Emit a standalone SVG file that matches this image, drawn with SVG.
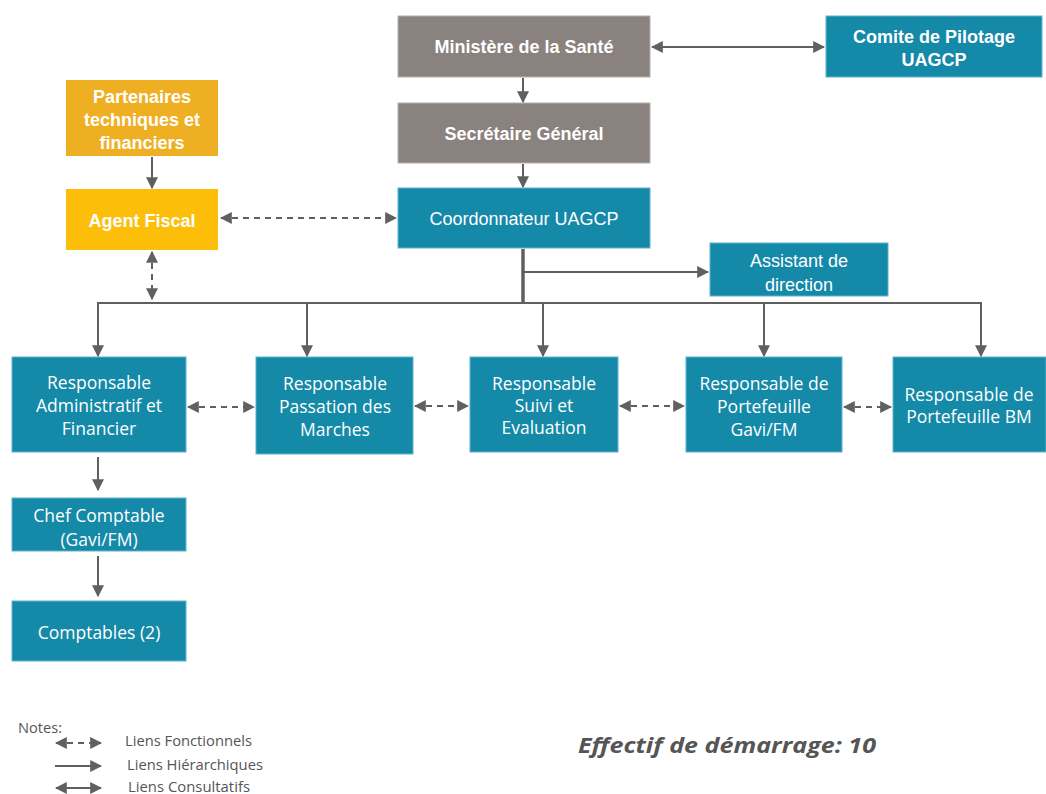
<svg xmlns="http://www.w3.org/2000/svg" width="1046" height="794" viewBox="0 0 1046 794">
<style>
.teal{fill:#1489A8;stroke:#5FB3CC;stroke-width:1}
.gray{fill:#8A827E;stroke:#b5aeaa;stroke-width:1}
.gold1{fill:#EFAF22}
.gold2{fill:#FDBE0A}
.t{font-family:"Open Sans","Liberation Sans",sans-serif;font-size:17.5px;fill:#fff;text-anchor:middle}
.tb{font-family:"Liberation Sans",Arial,sans-serif;font-size:18px;font-weight:bold;fill:#fff;text-anchor:middle}
.tc{font-family:"Liberation Sans",Arial,sans-serif;font-size:18px;fill:#fff;text-anchor:middle}
.ln{fill:none;stroke:#606060;stroke-width:2}
.dash{stroke-dasharray:6 5}
.leg{font-family:"Open Sans","Liberation Sans",sans-serif;font-size:14px;fill:#555}
</style>
<defs>
<marker id="ah" markerUnits="userSpaceOnUse" markerWidth="12" markerHeight="12" refX="9" refY="5" orient="auto-start-reverse" viewBox="0 0 10 10">
<path d="M0,0 L10,5 L0,10 z" fill="#606060"/>
</marker>
</defs>
<rect width="1046" height="794" fill="#fff"/>

<g id="connectors">
<line class="ln" x1="652" y1="47" x2="824" y2="47" marker-start="url(#ah)" marker-end="url(#ah)"/>
<line class="ln" x1="523" y1="78" x2="523" y2="102" marker-end="url(#ah)"/>
<line class="ln" x1="523" y1="164" x2="523" y2="187" marker-end="url(#ah)"/>
<line class="ln" x1="152" y1="157" x2="152" y2="188" marker-end="url(#ah)"/>
<line class="ln dash" x1="221" y1="218" x2="396" y2="218" marker-start="url(#ah)" marker-end="url(#ah)"/>
<line class="ln dash" x1="152" y1="252" x2="152" y2="299" marker-start="url(#ah)" marker-end="url(#ah)"/>
<line x1="523" y1="249" x2="523" y2="304" stroke="#606060" stroke-width="3.5"/>
<line class="ln" x1="523" y1="272" x2="708" y2="272" marker-end="url(#ah)"/>
<polyline class="ln" points="98,356 98,303 981,303 981,356" marker-end="url(#ah)"/>
<line class="ln" x1="98" y1="304" x2="98" y2="356" marker-end="url(#ah)"/>
<line class="ln" x1="307" y1="303" x2="307" y2="356" marker-end="url(#ah)"/>
<line class="ln" x1="543" y1="303" x2="543" y2="356" marker-end="url(#ah)"/>
<line class="ln" x1="764" y1="303" x2="764" y2="356" marker-end="url(#ah)"/>
<line class="ln dash" x1="188" y1="407" x2="254" y2="407" marker-start="url(#ah)" marker-end="url(#ah)"/>
<line class="ln dash" x1="415" y1="406" x2="468" y2="406" marker-start="url(#ah)" marker-end="url(#ah)"/>
<line class="ln dash" x1="620" y1="406" x2="684" y2="406" marker-start="url(#ah)" marker-end="url(#ah)"/>
<line class="ln dash" x1="844" y1="407" x2="891" y2="407" marker-start="url(#ah)" marker-end="url(#ah)"/>
<line class="ln" x1="98" y1="457" x2="98" y2="490" marker-end="url(#ah)"/>
<line class="ln" x1="98" y1="556" x2="98" y2="596" marker-end="url(#ah)"/>
</g>

<g id="ministere"><rect class="gray" x="398" y="16" width="252" height="61"/><text class="tb" x="524" y="53">Ministère de la Santé</text></g>
<g id="comite"><rect class="teal" x="826" y="16" width="216" height="61"/><text class="tb" x="934" y="43">Comite de Pilotage</text><text class="tb" x="934" y="66">UAGCP</text></g>
<g id="secretaire"><rect class="gray" x="398" y="103" width="252" height="60"/><text class="tb" x="524" y="140">Secrétaire Général</text></g>
<g id="coordonnateur"><rect class="teal" x="398" y="188" width="252" height="60"/><text class="tc" x="524" y="225">Coordonnateur UAGCP</text></g>
<g id="assistant"><rect class="teal" x="710" y="243" width="178" height="53"/><text class="tc" x="799" y="267">Assistant de</text><text class="tc" x="799" y="291">direction</text></g>
<g id="partenaires"><rect class="gold1" x="66" y="80" width="152" height="76"/><text class="tb" x="142" y="103">Partenaires</text><text class="tb" x="142" y="126">techniques et</text><text class="tb" x="142" y="149">financiers</text></g>
<g id="agent-fiscal"><rect class="gold2" x="66" y="189" width="152" height="61"/><text class="tb" x="142" y="227">Agent Fiscal</text></g>
<g id="resp-admin"><rect class="teal" x="12" y="357" width="174" height="95"/><text class="t" x="99" y="389">Responsable</text><text class="t" x="99" y="412">Administratif et</text><text class="t" x="99" y="435">Financier</text></g>
<g id="resp-passation"><rect class="teal" x="256" y="357" width="157" height="97"/><text class="t" x="335" y="390">Responsable</text><text class="t" x="335" y="413">Passation des</text><text class="t" x="335" y="436">Marches</text></g>
<g id="resp-suivi"><rect class="teal" x="470" y="357" width="148" height="95"/><text class="t" x="544" y="390">Responsable</text><text class="t" x="544" y="412">Suivi et</text><text class="t" x="544" y="434">Evaluation</text></g>
<g id="resp-gavi"><rect class="teal" x="686" y="357" width="156" height="95"/><text class="t" x="764" y="390">Responsable de</text><text class="t" x="764" y="413">Portefeuille</text><text class="t" x="764" y="436">Gavi/FM</text></g>
<g id="resp-bm"><rect class="teal" x="893" y="357" width="153" height="95"/><text class="t" x="969" y="401">Responsable de</text><text class="t" x="969" y="423">Portefeuille BM</text></g>
<g id="chef-comptable"><rect class="teal" x="12" y="498" width="174" height="53"/><text class="t" x="99" y="522">Chef Comptable</text><text class="t" x="99" y="546">(Gavi/FM)</text></g>
<g id="comptables"><rect class="teal" x="12" y="601" width="174" height="60"/><text class="t" x="99" y="639">Comptables (2)</text></g>

<g id="legend">
<text class="leg" x="18" y="733" textLength="44" lengthAdjust="spacingAndGlyphs">Notes:</text>
<line class="ln dash" x1="56" y1="743" x2="101" y2="743" stroke-dasharray="5 5" marker-start="url(#ah)" marker-end="url(#ah)"/>
<text class="leg" x="125" y="746" textLength="127" lengthAdjust="spacingAndGlyphs">Liens Fonctionnels</text>
<line class="ln" x1="55" y1="766" x2="101" y2="766" marker-end="url(#ah)"/>
<text class="leg" x="127" y="770" textLength="136" lengthAdjust="spacingAndGlyphs">Liens Hiérarchiques</text>
<line class="ln" x1="56" y1="788" x2="101" y2="788" marker-start="url(#ah)" marker-end="url(#ah)"/>
<text class="leg" x="128" y="792" textLength="122" lengthAdjust="spacingAndGlyphs">Liens Consultatifs</text>
</g>
<text x="578" y="753" font-family="'Open Sans','Liberation Sans',sans-serif" font-size="22" font-weight="bold" font-style="italic" fill="#555" textLength="298" lengthAdjust="spacingAndGlyphs">Effectif de démarrage: 10</text>
</svg>
